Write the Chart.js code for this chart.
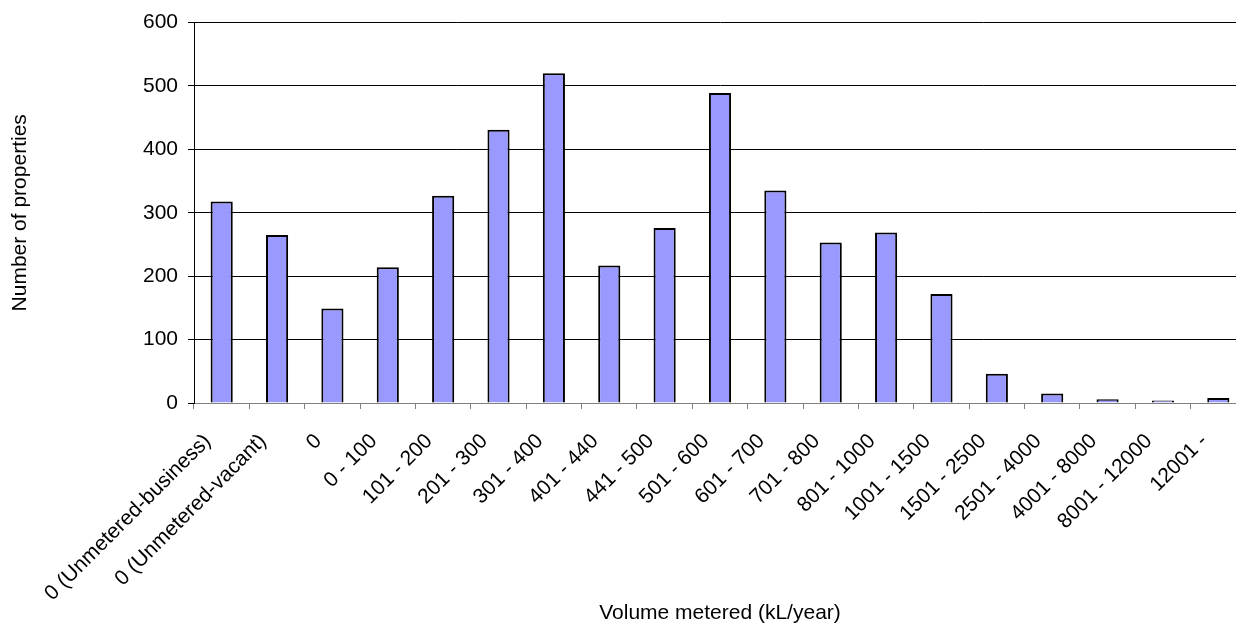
<!DOCTYPE html>
<html>
<head>
<meta charset="utf-8">
<script src="https://cdn.jsdelivr.net/npm/chart.js@4/dist/chart.umd.min.js"></script>
<style>
  html, body { margin: 0; padding: 0; background: #fff; overflow: hidden; }
  #wrap { position: relative; width: 1262px; height: 630px; }
</style>
</head>
<body>
<div id="wrap"><canvas id="volume-chart"></canvas></div>
<script>
// Categories and values
const categories = [
  "0 (Unmetered-business)", "0 (Unmetered-vacant)", "0", "0 - 100", "101 - 200",
  "201 - 300", "301 - 400", "401 - 440", "441 - 500", "501 - 600", "601 - 700",
  "701 - 800", "801 - 1000", "1001 - 1500", "1501 - 2500", "2501 - 4000",
  "4001 - 8000", "8001 - 12000", "12001 -"
];
const properties = [318, 265, 149, 214, 327, 431, 520, 217, 276, 489, 335, 253, 269, 172, 46, 15, 6, 4, 8];
const yTicks = [0, 100, 200, 300, 400, 500, 600];

const font = "'Liberation Sans', Arial, sans-serif";

const ctx = document.getElementById("volume-chart").getContext("2d");
new Chart(ctx, {
  type: "bar",
  data: {
    labels: categories,
    datasets: [
      {
        label: "Number of properties",
        data: properties,
        backgroundColor: "#9999ff",
        borderColor: "#000000",
        borderWidth: 2,
        categoryPercentage: 1,
        barPercentage: 0.4,
      },
    ],
  },
  options: {
    responsive: true,
    maintainAspectRatio: false,
    animation: false,
    layout: { padding: { top: 21, right: 16, left: 0, bottom: 0 } },
    plugins: { legend: { display: false }, tooltip: { enabled: false } },
    scales: {
      x: {
        afterFit: function (scale) { scale.height = 227; },
        grid: { drawOnChartArea: false, drawTicks: true, tickLength: 6, tickColor: "#808080", offset: true },
        border: { color: "#808080", width: 1 },
        ticks: {
          color: "#000",
          font: { family: font, size: 21 },
          maxRotation: 45,
          minRotation: 45,
          autoSkip: false,
          padding: 20,
          labelOffset: -14,
        },
        title: {
          display: true,
          text: "Volume metered (kL/year)",
          color: "#000",
          font: { family: font, size: 21 },
          padding: { top: 0, bottom: 4 },
        },
      },
      y: {
        min: 0,
        max: 600,
        afterFit: function (scale) { scale.width = 194; },
        afterBuildTicks: function (scale) { scale.ticks = yTicks.map(function (v) { return { value: v }; }); },
        grid: { color: "#000", lineWidth: 1, tickLength: 6, tickColor: "#000" },
        border: { color: "#000", width: 1 },
        ticks: { color: "#000", font: { family: font, size: 21 }, padding: 10 },
        title: {
          display: true,
          text: "Number of properties",
          color: "#000",
          font: { family: font, size: 21 },
          padding: { top: 8, bottom: 0 },
        },
      },
    },
  },
});
</script>
</body>
</html>
